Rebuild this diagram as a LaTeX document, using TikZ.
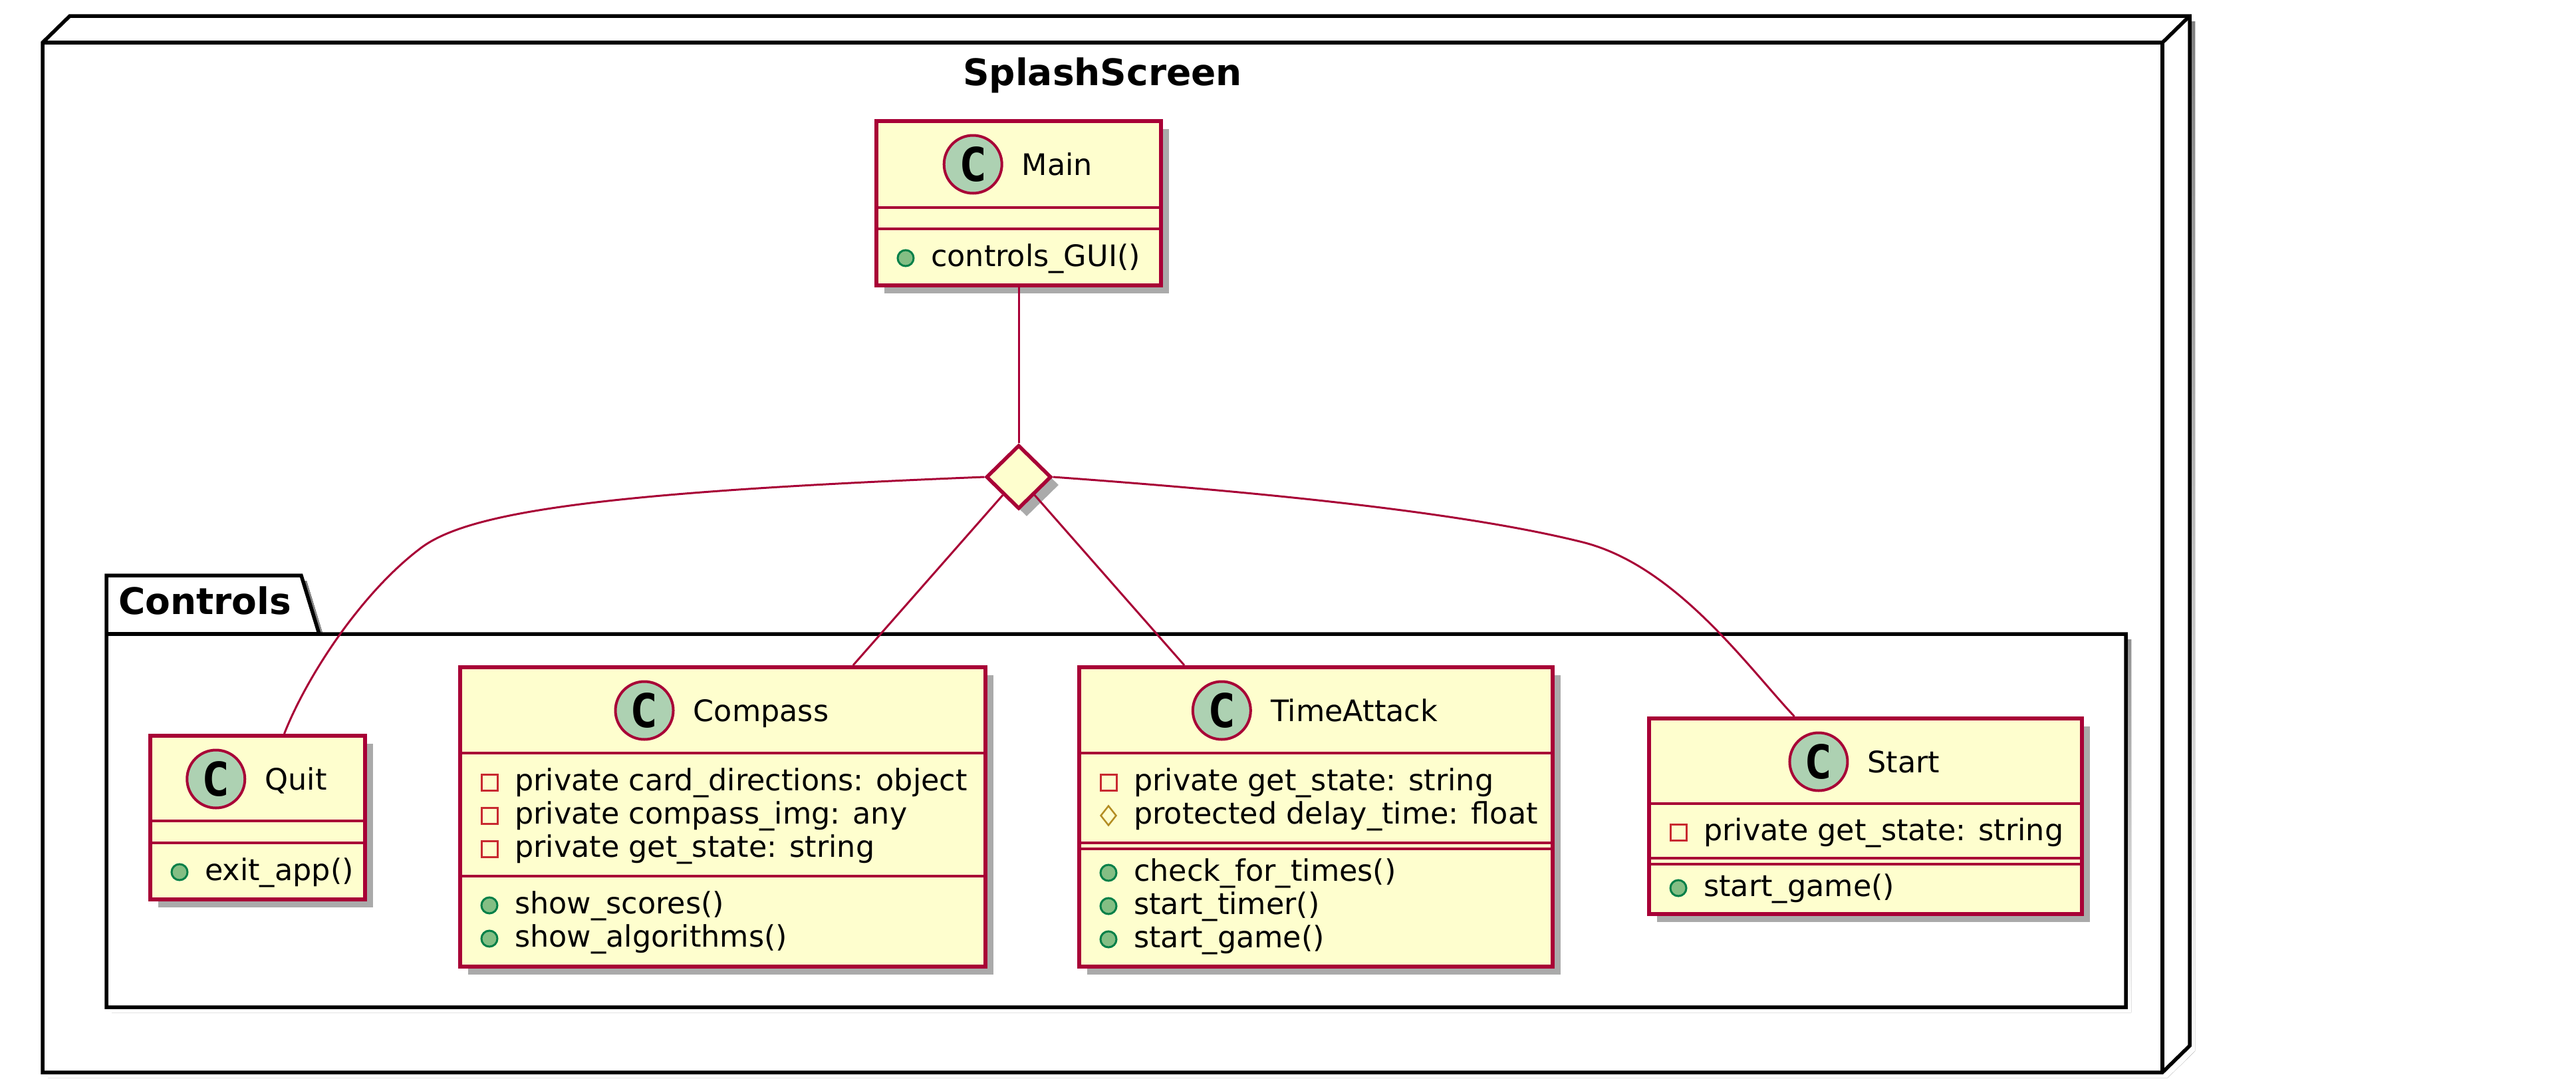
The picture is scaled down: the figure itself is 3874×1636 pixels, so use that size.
\documentclass[tikz,border=0pt]{standalone}
\usepackage{fontspec}
\setmainfont{DejaVu Sans}
\newfontfamily\iconfont{DejaVu Sans Mono}
\usetikzlibrary{positioning,shapes.geometric,shadows}

\definecolor{umlred}{HTML}{A80036}
\definecolor{umlfill}{HTML}{FEFECE}
\definecolor{iconfill}{HTML}{ADD1B2}
\definecolor{pubfill}{HTML}{84BE84}
\definecolor{pubdraw}{HTML}{038048}
\definecolor{privdraw}{HTML}{C82930}
\definecolor{protdraw}{HTML}{B38D22}
\definecolor{shade}{HTML}{AAAAAA}

\tikzset{
  frame/.style={draw=black, line width=5.5pt},
  cls/.style={draw=umlred, fill=umlfill, line width=6pt, inner sep=0pt,
    drop shadow={shadow xshift=12pt, shadow yshift=-12pt, fill=shade, opacity=1}},
  sep/.style={draw=umlred, line width=4.5pt},
  cname/.style={font=\fontsize{44.5}{54}\selectfont, inner sep=0pt,
    text height=32.4pt, text depth=0pt},
  cicon/.style={circle, draw=umlred, fill=iconfill, line width=4pt,
    minimum size=87pt, inner sep=0pt,
    font=\iconfont\bfseries\fontsize{70}{70}\selectfont},
  row/.style={font=\fontsize{44.5}{54}\selectfont, inner sep=0pt, anchor=base west},
  pub/.style={circle, draw=pubdraw, fill=pubfill, line width=3pt,
    minimum size=24pt, inner sep=0pt},
  priv/.style={rectangle, draw=privdraw, line width=3pt,
    minimum size=24pt, inner sep=0pt},
  prot/.style={diamond, draw=protdraw, line width=2.5pt,
    minimum width=24pt, minimum height=30pt, inner sep=0pt},
  link/.style={draw=umlred, line width=3pt},
  title/.style={font=\bfseries\fontsize{55}{66}\selectfont, inner sep=0pt}
}

\begin{document}
\begin{tikzpicture}[x=1pt, y=-1pt]
  \useasboundingbox (0,0) rectangle (3874,1636);

  % node SplashScreen
  \fill[shade, shift={(8,8)}] (64,64) -- (105,24) -- (3293,24) -- (3293,1572)
    -- (3252,1612) -- (64,1612) -- cycle;
  \draw[frame, fill=white] (64,64) -- (105,24) -- (3293,24) -- (3293,1572)
    -- (3252,1612) -- (64,1612) -- cycle;
  \draw[frame] (64,64) -- (3252,64) -- (3252,1612);
  \draw[frame] (3252,64) -- (3293,24);
  \node[title, anchor=base] (splashTitle) at (1658,128) {SplashScreen};

  % package Controls
  \fill[shade, shift={(8,8)}] (160,865) -- (453,865) -- (480,953) -- (3197,953)
    -- (3197,1514) -- (160,1514) -- cycle;
  \draw[frame, fill=white] (160,865) -- (453,865) -- (480,953) -- (3197,953)
    -- (3197,1514) -- (160,1514) -- cycle;
  \draw[frame] (160,953) -- (480,953);
  \node[title, anchor=base west] (controlsTitle) at (178,923) {Controls};

  % class boxes
  \node[cls, minimum width=428pt, minimum height=247pt] (main) at (1532,305.5) {};
  \node[cls, minimum width=323pt, minimum height=246pt] (quit) at (387.5,1229) {};
  \node[cls, minimum width=790pt, minimum height=450pt] (compass) at (1087,1228) {};
  \node[cls, minimum width=712pt, minimum height=450pt] (timeattack) at (1979,1228) {};
  \node[cls, minimum width=651pt, minimum height=294pt] (start) at (2805.5,1227) {};

  % aggregation point
  \node[diamond, draw=umlred, fill=umlfill, line width=5.5pt, minimum width=98pt,
    minimum height=96pt, inner sep=0pt,
    drop shadow={shadow xshift=12pt, shadow yshift=-12pt, fill=shade, opacity=1}]
    (agg) at (1532,717) {};

  % links
  \draw[link] (main) -- (agg);
  \draw[link] (agg) -- ([xshift=196pt]compass.north);
  \draw[link] (agg) -- ([xshift=-198pt]timeattack.north);
  \draw[link] (agg.west) .. controls (900,740) and (700,770) .. (630,826)
    .. controls (540,895) and (460,1020) .. ([xshift=40pt]quit.north);
  \draw[link] (agg.east) .. controls (1900,740) and (2200,770) .. (2380,815)
    .. controls (2520,850) and (2628,1002) .. ([xshift=-107pt]start.north);

  % Main
  \draw[sep] (main.west |- 0,312) -- (main.east |- 0,312);
  \draw[sep] (main.west |- 0,344) -- (main.east |- 0,344);
  \node[cname] (mainName) at (1590,247) {Main};
  \node[cicon, left=28pt of mainName] (mainIcon) {C};
  \node[pub] (mainM0icon) at (1362,388) {};
  \node[row] (mainM0) at (1400,400) {controls\_GUI()};

  % Quit
  \draw[sep] (quit.west |- 0,1234) -- (quit.east |- 0,1234);
  \draw[sep] (quit.west |- 0,1267) -- (quit.east |- 0,1267);
  \node[cname] (quitName) at (445,1171) {Quit};
  \node[cicon, left=28pt of quitName] (quitIcon) {C};
  \node[pub] (quitM0icon) at (270,1311) {};
  \node[row] (quitM0) at (308,1323) {exit\_app()};

  % Compass
  \draw[sep] (compass.west |- 0,1132) -- (compass.east |- 0,1132);
  \draw[sep] (compass.west |- 0,1317) -- (compass.east |- 0,1317);
  \node[cname] (compassName) at (1144.5,1068) {Compass};
  \node[cicon, left=28pt of compassName] (compassIcon) {C};
  \foreach \txt [count=\i from 0] in {private card\_directions: object,
      private compass\_img: any, private get\_state: string} {
    \node[priv] (compassA\i icon) at (736,1176+50*\i) {};
    \node[row] (compassA\i) at (774,1188+50*\i) {\txt};
  }
  \foreach \txt [count=\i from 0] in {show\_scores(), show\_algorithms()} {
    \node[pub] (compassM\i icon) at (736,1361+50*\i) {};
    \node[row] (compassM\i) at (774,1373+50*\i) {\txt};
  }

  % TimeAttack
  \draw[sep] (timeattack.west |- 0,1132) -- (timeattack.east |- 0,1132);
  \draw[sep] (timeattack.west |- 0,1267) -- (timeattack.east |- 0,1267);
  \draw[sep] (timeattack.west |- 0,1276) -- (timeattack.east |- 0,1276);
  \node[cname] (timeattackName) at (2036.5,1068) {TimeAttack};
  \node[cicon, left=28pt of timeattackName] (timeattackIcon) {C};
  \node[priv] (timeattackA0icon) at (1667,1176) {};
  \node[row] (timeattackA0) at (1705,1188) {private get\_state: string};
  \node[prot] (timeattackA1icon) at (1667,1226) {};
  \node[row] (timeattackA1) at (1705,1238) {protected delay\_time: float};
  \foreach \txt [count=\i from 0] in {check\_for\_times(), start\_timer(), start\_game()} {
    \node[pub] (timeattackM\i icon) at (1667,1312+50*\i) {};
    \node[row] (timeattackM\i) at (1705,1324+50*\i) {\txt};
  }

  % Start
  \draw[sep] (start.west |- 0,1208) -- (start.east |- 0,1208);
  \draw[sep] (start.west |- 0,1290) -- (start.east |- 0,1290);
  \draw[sep] (start.west |- 0,1299) -- (start.east |- 0,1299);
  \node[cname] (startName) at (2863,1145) {Start};
  \node[cicon, left=28pt of startName] (startIcon) {C};
  \node[priv] (startA0icon) at (2524,1251) {};
  \node[row] (startA0) at (2562,1263) {private get\_state: string};
  \node[pub] (startM0icon) at (2524,1335) {};
  \node[row] (startM0) at (2562,1347) {start\_game()};
\end{tikzpicture}
\end{document}
